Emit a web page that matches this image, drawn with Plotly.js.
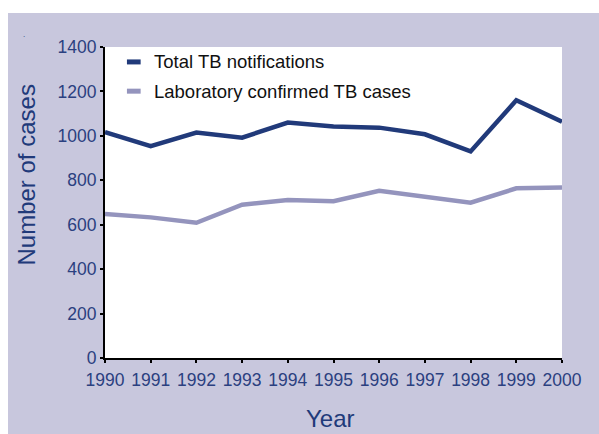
<!DOCTYPE html>
<html>
<head>
<meta charset="utf-8">
<script src="https://cdn.plot.ly/plotly-3.0.1.min.js"></script>
<style>
html, body { margin: 0; padding: 0; background: #ffffff; width: 599px; height: 434px; overflow: hidden; }
#chart { position: absolute; left: 8px; top: 13px; width: 591px; height: 421px; }
</style>
</head>
<body>
<div id="chart"></div>
<script>
const years = [1990, 1991, 1992, 1993, 1994, 1995, 1996, 1997, 1998, 1999, 2000];
const totalNotifications = [1017, 954, 1015, 992, 1060, 1042, 1037, 1007, 930, 1160, 1064];
const labConfirmed = [648, 633, 609, 690, 711, 706, 753, 726, 699, 764, 768];
const seriesNames = ["Total TB notifications", "Laboratory confirmed TB cases"];
const yTicks = [0, 200, 400, 600, 800, 1000, 1200, 1400];

const navy = "#213a7a";
const lilac = "#9494bd";
const tickColor = "#2b4080";
const font = "Liberation Sans, Arial, sans-serif";

const traces = [
  { x: years, y: totalNotifications, name: seriesNames[0], type: "scatter", mode: "lines",
    line: { color: navy, width: 4.5 }, showlegend: false, hoverinfo: "skip" },
  { x: years, y: labConfirmed, name: seriesNames[1], type: "scatter", mode: "lines",
    line: { color: lilac, width: 4.5 }, showlegend: false, hoverinfo: "skip" }
];

// Legend drawn with paper-referenced swatches and labels
const legendRows = [0.952, 0.858];
const colors = [navy, lilac];
const shapes = legendRows.map((yy, i) => ({
  type: "line", xref: "paper", yref: "paper",
  x0: 0.048, x1: 0.078, y0: yy, y1: yy,
  line: { color: colors[i], width: 5 }
}));
const annotations = legendRows.map((yy, i) => ({
  text: seriesNames[i], xref: "paper", yref: "paper", x: 0.103, y: yy,
  xanchor: "left", yanchor: "middle", showarrow: false,
  font: { family: font, size: 18.5, color: "#111111" }
}));
annotations.push({
  text: "Number of cases", xref: "paper", yref: "paper",
  x: -0.172, y: 0.588, xanchor: "center", yanchor: "middle", textangle: -90,
  showarrow: false, font: { family: font, size: 24, color: navy }
});
annotations.push({
  text: "Year", xref: "paper", yref: "paper",
  x: 0.494, y: -0.194, xanchor: "center", yanchor: "middle",
  showarrow: false, font: { family: font, size: 24, color: navy }
});
annotations.push({
  text: ".", xref: "paper", yref: "paper",
  x: -0.177, y: 1.041, xanchor: "center", yanchor: "middle",
  showarrow: false, font: { family: font, size: 8, color: navy }
});

const layout = {
  width: 591, height: 421,
  margin: { l: 97, r: 37, t: 34, b: 76 },
  paper_bgcolor: "#c8c7dd",
  plot_bgcolor: "#ffffff",
  showlegend: false,
  xaxis: {
    range: [1990, 2000], tickvals: years, ticktext: years.map(String),
    showgrid: false, zeroline: false, showline: true, linecolor: "#000000", linewidth: 2,
    ticks: "outside", ticklen: 3, tickwidth: 2, tickcolor: "#000000", ticklabelstandoff: 2,
    tickfont: { family: font, size: 17.5, color: tickColor }, fixedrange: true
  },
  yaxis: {
    range: [0, 1400], tickvals: yTicks, ticktext: yTicks.map(String),
    showgrid: false, zeroline: false, showline: true, linecolor: "#000000", linewidth: 2,
    ticks: "outside", ticklen: 3, tickwidth: 2, tickcolor: "#000000",
    tickfont: { family: font, size: 17.5, color: tickColor }, fixedrange: true
  },
  shapes: shapes,
  annotations: annotations
};

Plotly.newPlot("chart", traces, layout, { displayModeBar: false, staticPlot: true });
</script>
</body>
</html>
